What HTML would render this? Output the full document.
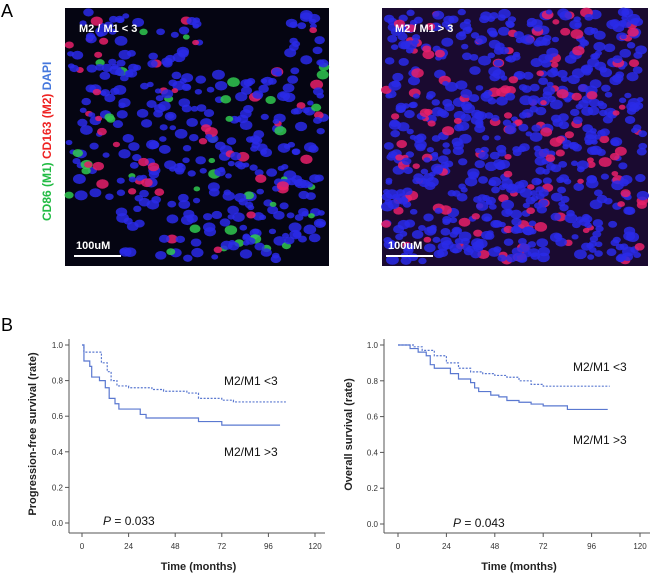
<!DOCTYPE html>
<html><head><meta charset="utf-8"><style>
body{margin:0;background:#fff;width:658px;height:573px;overflow:hidden;font-family:"Liberation Sans",sans-serif}
svg{position:absolute;left:0;top:0}
</style></head><body>
<svg id="fig" width="658" height="573">
<text x="1" y="17" font-size="18">A</text>
<text x="1" y="331" font-size="18">B</text>
<rect x="65" y="8" width="264" height="258" fill="#050512"/>
<rect x="382" y="8" width="266" height="258" fill="#1a0a30"/>
<g id="cellsL"></g>
<g id="cellsR"></g>
<text x="79" y="32" fill="#fff" font-size="11" font-weight="bold">M2 / M1 &lt; 3</text>
<text x="395" y="32" fill="#fff" font-size="11" font-weight="bold">M2 / M1 &gt; 3</text>
<text x="76" y="249" fill="#fff" font-size="11" font-weight="bold">100uM</text>
<line x1="74" y1="256" x2="121" y2="256" stroke="#fff" stroke-width="2"/>
<text x="388" y="249" fill="#fff" font-size="11" font-weight="bold">100uM</text>
<line x1="386" y1="256" x2="433" y2="256" stroke="#fff" stroke-width="2"/>
<text transform="translate(51,221) rotate(-90)" font-size="12" font-weight="bold"><tspan fill="#22bb44">CD86 (M1) </tspan><tspan fill="#ee2222">CD163 (M2) </tspan><tspan fill="#4477dd">DAPI</tspan></text>
<g id="chartL"></g>
<g id="chartR"></g>
</svg>
<script>
// Left: progression-free survival
const pfsLowT=[0,1,10,13,15,18,24,36,42,54,60,72,78,105];
const pfsLowS=[1.0,0.96,0.90,0.85,0.80,0.77,0.76,0.75,0.74,0.73,0.70,0.69,0.68,0.68];
const pfsHighT=[0,1,4,5,9,12,14,17,19,30,33,60,72,102];
const pfsHighS=[1.0,0.91,0.88,0.82,0.80,0.76,0.70,0.67,0.64,0.61,0.59,0.57,0.55,0.55];
// Right: overall survival
const osLowT=[0,3,8,12,18,24,30,36,42,48,54,60,66,72,105];
const osLowS=[1.0,1.0,0.99,0.97,0.94,0.90,0.87,0.85,0.84,0.83,0.82,0.80,0.78,0.77,0.77];
const osHighT=[0,6,10,14,16,18,26,30,36,38,40,46,50,54,60,66,72,84,104];
const osHighS=[1.0,0.98,0.96,0.94,0.89,0.87,0.84,0.81,0.79,0.76,0.74,0.72,0.71,0.69,0.68,0.67,0.66,0.64,0.64];
const xTicks=[0,24,48,72,96,120];
const yTicks=[0.0,0.2,0.4,0.6,0.8,1.0];

const NS='http://www.w3.org/2000/svg';
function mk(tag,attrs,parent,txt){const e=document.createElementNS(NS,tag);for(const k in attrs)e.setAttribute(k,attrs[k]);if(txt!==undefined)e.textContent=txt;parent.appendChild(e);return e;}

function chart(g,o){
  const sx=t=>o.x0+(t/120)*(o.x120-o.x0);
  const sy=v=>o.y0-v*(o.y0-o.y1);
  let e=mk('line',{x1:o.ax,y1:o.y1-6,x2:o.ax,y2:o.bx,stroke:'#555','stroke-width':1},g);
  
  
  e=mk('line',{x1:o.ax,y1:o.bx,x2:o.x120+10,y2:o.bx,stroke:'#555','stroke-width':1},g);
  
  
  xTicks.forEach(t=>{
    mk('line',{x1:sx(t),y1:o.bx,x2:sx(t),y2:o.bx+4,stroke:'#555'},g);
    const l=mk('text',{x:sx(t),y:o.bx+16,'font-size':8,'text-anchor':'middle',fill:'#333'},g,String(t));
    
    
  });
  yTicks.forEach(v=>{
    mk('line',{x1:o.ax-4,y1:sy(v),x2:o.ax,y2:sy(v),stroke:'#555'},g);
    const l=mk('text',{x:o.ax-6,y:sy(v)+3,'font-size':8,'text-anchor':'end',fill:'#333'},g,v.toFixed(1));
    
    
  });
  function step(T,S,dash,name){
    let d='M'+sx(T[0])+','+sy(S[0]);
    for(let i=1;i<T.length;i++){d+=' H'+sx(T[i])+' V'+sy(S[i]);}
    const p=mk('path',{d:d,fill:'none',stroke:'#5a78d0','stroke-width':1.2,'stroke-dasharray':dash},g);
    
    
  }
  step(o.lowT,o.lowS,'2,1.5','km-curve-low-ratio');
  step(o.highT,o.highS,'','km-curve-high-ratio');
  let t=mk('text',{x:o.lx,y:o.ly1,'font-size':12,fill:'#111'},g,'M2/M1 <3');
  
  
  t=mk('text',{x:o.lx,y:o.ly2,'font-size':12,fill:'#111'},g,'M2/M1 >3');
  
  
  t=mk('text',{x:o.px,y:o.py,'font-size':12,fill:'#111'},g);
  mk('tspan',{'font-style':'italic'},t,'P');
  mk('tspan',{},t,' = '+o.p);
  
  
  t=mk('text',{x:(o.x0+o.x120)/2,y:570,'font-size':11,'font-weight':'bold','text-anchor':'middle',fill:'#222'},g,'Time (months)');
  
  
  t=mk('text',{transform:'translate('+o.tx+','+((o.y0+o.y1)/2)+') rotate(-90)','font-size':11,'font-weight':'bold','text-anchor':'middle',fill:'#222'},g,o.title);
  
  
}
chart(document.getElementById('chartL'),{x0:82,x120:315,y0:523,y1:345,ax:69,bx:533,lowT:pfsLowT,lowS:pfsLowS,highT:pfsHighT,highS:pfsHighS,lx:224,ly1:385,ly2:456,px:103,py:525,p:'0.033',tx:36,title:'Progression-free survival (rate)'});
chart(document.getElementById('chartR'),{x0:398,x120:640,y0:524,y1:345,ax:384,bx:533,lowT:osLowT,lowS:osLowS,highT:osHighT,highS:osHighS,lx:573,ly1:371,ly2:444,px:453,py:527,p:'0.043',tx:352,title:'Overall survival (rate)'});

// decorative microscopy cells (pseudo-random texture, not data)
let seed=7;function rnd(){seed=(seed*16807)%2147483647;return seed/2147483647;}
function cells(g,x,y,w,h,n,redP,greenP,skipFn){
  for(let i=0;i<n;i++){
    const cx=x+4+rnd()*(w-8),cy=y+4+rnd()*(h-8),r=2.5+rnd()*2.5;
    const q=rnd();
    if(skipFn&&skipFn(cx,cy))continue;
    let c='#2a2ae8';
    if(q<redP)c='#e8206a';else if(q<redP+greenP)c='#30c850';
    mk('ellipse',{cx:cx,cy:cy,rx:r*1.3,ry:r,fill:c,opacity:0.85},g);
  }
}
cells(document.getElementById('cellsL'),65,8,264,258,480,0.1,0.1,(cx,cy)=>(cx<120&&cy>200)||(cx>200&&cy<70&&cx<290));
cells(document.getElementById('cellsR'),382,8,266,258,750,0.18,0.0);
</script>
</body></html>
